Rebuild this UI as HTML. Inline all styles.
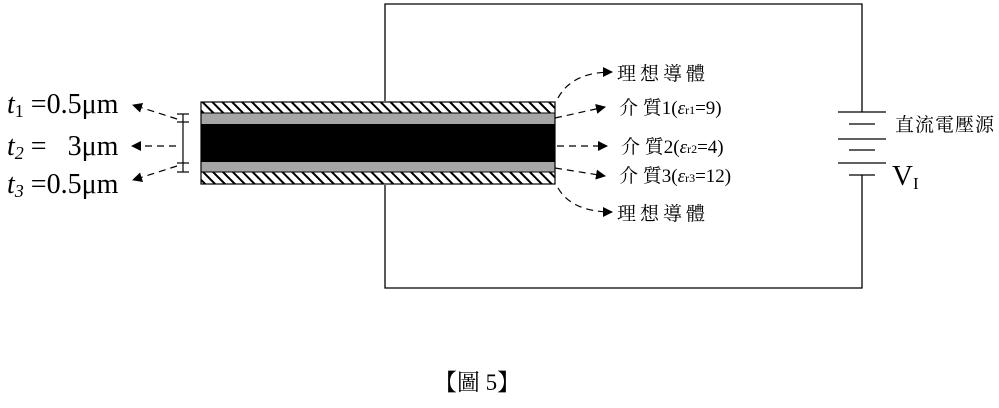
<!DOCTYPE html>
<html><head><meta charset="utf-8"><style>
body{margin:0;background:#fff;width:999px;height:403px;overflow:hidden}
</style></head><body>
<svg width="999" height="403" xmlns="http://www.w3.org/2000/svg" font-family="'Liberation Serif','Noto Serif CJK SC',serif">
<defs>
<pattern id="h" width="7" height="7" patternUnits="userSpaceOnUse" patternTransform="rotate(-45)">
<rect width="7" height="7" fill="#fff"/><rect width="2" height="7" fill="#000"/></pattern>
<marker id="a" markerWidth="10" markerHeight="10" refX="9" refY="5" orient="auto" markerUnits="userSpaceOnUse"><path d="M0,0 L10,5 L0,10 z"/></marker>
</defs>
<g stroke="#000" stroke-width="1.3" fill="none">
<path d="M385,101 V4 H862 V112"/>
<path d="M385,185 V288 H862 V175"/>
<line x1="838" y1="112" x2="886" y2="112"/>
<line x1="849" y1="124" x2="875" y2="124"/>
<line x1="838" y1="139" x2="886" y2="139"/>
<line x1="849" y1="150" x2="875" y2="150"/>
<line x1="838" y1="163" x2="886" y2="163"/>
<line x1="849" y1="175" x2="875" y2="175"/>
</g>
<rect x="201" y="102" width="354" height="11" fill="url(#h)"/>
<rect x="201" y="113" width="354" height="11" fill="#a6a6a6"/>
<rect x="201" y="124" width="354" height="38" fill="#000"/>
<rect x="201" y="162" width="354" height="10" fill="#a6a6a6"/>
<rect x="201" y="172" width="354" height="12" fill="url(#h)"/>
<rect x="201" y="102" width="354" height="82" fill="none" stroke="#000" stroke-width="1.2"/>
<line x1="201" y1="113" x2="555" y2="113" stroke="#000"/>
<line x1="201" y1="172" x2="555" y2="172" stroke="#000"/>
<g stroke="#000" stroke-width="1.2">
<line x1="183" y1="114" x2="183" y2="172"/>
<line x1="177" y1="114" x2="189" y2="114"/><line x1="177" y1="122" x2="189" y2="122"/>
<line x1="177" y1="163" x2="189" y2="163"/><line x1="177" y1="172" x2="189" y2="172"/>
</g>
<g stroke="#000" stroke-width="1.2" stroke-dasharray="7,5" fill="none" marker-end="url(#a)">
<path d="M177,119 L133,105"/>
<path d="M176,146 L132,146"/>
<path d="M177,166 L133,180"/>
<path d="M558,98 Q572,72 612,72"/>
<path d="M555,118 L605,107"/>
<path d="M557,146 L607,146"/>
<path d="M555,168 L605,176"/>
<path d="M558,188 Q572,212 612,212"/>
</g>
<g font-size="28">
<text x="7" y="113"><tspan font-style="italic">t</tspan><tspan font-size="18" dy="4">1</tspan><tspan dy="-4"> =0.5μm</tspan></text>
<text x="7" y="155"><tspan font-style="italic">t</tspan><tspan font-size="18" dy="4" font-style="italic">2</tspan><tspan dy="-4" xml:space="preserve"> =   3μm</tspan></text>
<text x="7" y="193"><tspan font-style="italic">t</tspan><tspan font-size="18" dy="4" font-style="italic">3</tspan><tspan dy="-4"> =0.5μm</tspan></text>
</g>
<g font-size="19">
<text x="617" y="80" letter-spacing="4">理想導體</text>
<text x="619" y="114">介 質1(<tspan font-style="italic">ε</tspan><tspan font-size="12">r1</tspan>=9)</text>
<text x="621" y="153">介 質2(<tspan font-style="italic">ε</tspan><tspan font-size="12">r2</tspan>=4)</text>
<text x="619" y="182">介 質3(<tspan font-style="italic">ε</tspan><tspan font-size="12">r3</tspan>=12)</text>
<text x="617" y="220" letter-spacing="4">理想導體</text>
<text x="895" y="131" letter-spacing="1">直流電壓源</text>
<text x="477" y="390" text-anchor="middle" font-size="23">【圖 5】</text>
</g>
<text x="892" y="185" font-size="29">V<tspan font-size="17" dy="4">I</tspan></text>
</svg>
</body></html>
